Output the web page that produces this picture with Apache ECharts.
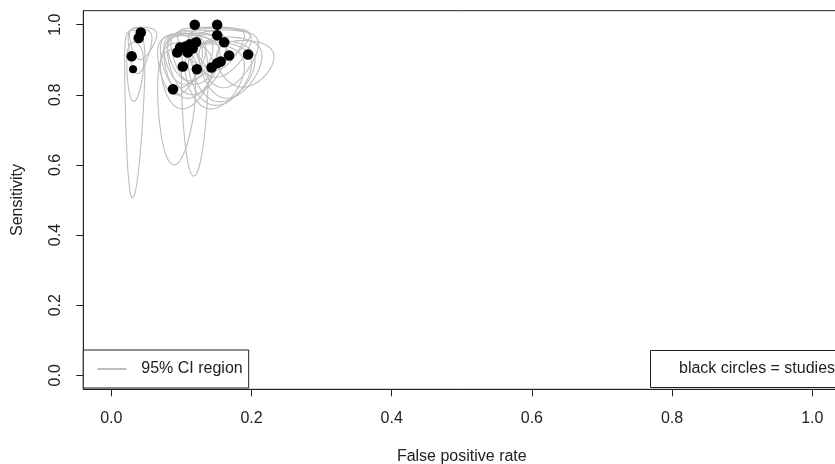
<!DOCTYPE html>
<html>
<head>
<meta charset="utf-8">
<script src="https://cdn.jsdelivr.net/npm/echarts@6/dist/echarts.min.js"></script>
<style>html,body{margin:0;padding:0;background:#fff;}#c{width:835px;height:464px;}</style>
</head>
<body>
<div id="c"></div>
<script>
// Study estimates
var studyFpr  = [0.042,0.039,0.029,0.031,0.088,0.102,0.094,0.098,0.106,0.112,0.116,0.109,0.119,0.122,0.151,0.151,0.161,0.168,0.195,0.143,0.151,0.156,0.121];
var studySens = [0.978,0.962,0.910,0.873,0.816,0.881,0.921,0.935,0.938,0.944,0.932,0.921,1.000,0.873,1.000,0.970,0.950,0.912,0.915,0.878,0.890,0.895,0.950];
// 95% CI region bounds per study (ellipses in logit space)
var ciFprLo  = [0.026,0.024,0.019,0.022,0.066,0.070,0.066,0.070,0.075,0.080,0.080,0.075,0.094,0.100,0.115,0.110,0.120,0.125,0.150,0.105,0.110,0.115,0.085];
var ciFprHi  = [0.065,0.058,0.048,0.046,0.120,0.145,0.130,0.135,0.145,0.155,0.165,0.155,0.198,0.138,0.190,0.200,0.210,0.215,0.232,0.190,0.200,0.205,0.165];
var ciSensLo = [0.900,0.860,0.505,0.780,0.600,0.760,0.800,0.820,0.830,0.840,0.800,0.790,0.880,0.567,0.870,0.850,0.820,0.790,0.822,0.760,0.770,0.780,0.830];
var ciSensHi = [0.993,0.990,0.985,0.950,0.930,0.950,0.970,0.975,0.975,0.980,0.975,0.970,0.993,0.960,0.993,0.990,0.985,0.965,0.955,0.945,0.950,0.955,0.985];
var tickValues = [0, 0.2, 0.4, 0.6, 0.8, 1.0];

function logit(p){ return Math.log(p/(1-p)); }
function expit(x){ return 1/(1+Math.exp(-x)); }
function ellipse(fLo,fHi,sLo,sHi){
  var cx=(logit(fLo)+logit(fHi))/2, rx=(logit(fHi)-logit(fLo))/2;
  var cy=(logit(sLo)+logit(sHi))/2, ry=(logit(sHi)-logit(sLo))/2;
  var pts=[];
  for(var i=0;i<=180;i++){
    var t=2*Math.PI*i/180;
    pts.push([expit(cx+rx*Math.cos(t)), expit(cy+ry*Math.sin(t))]);
  }
  return pts;
}

var FONT = "'Liberation Sans', Arial, sans-serif";
var series = [];
for (var k=0;k<studyFpr.length;k++){
  series.push({
    name:'95% CI region', type:'line', showSymbol:false, symbol:'none', silent:true,
    data: ellipse(ciFprLo[k],ciFprHi[k],ciSensLo[k],ciSensHi[k]),
    lineStyle:{color:'#bdbdbd', width:1.1}, itemStyle:{color:'#bdbdbd'}, z:2, animation:false
  });
}
var pts = studyFpr.map(function(f,i){ return [f, studySens[i]]; });
series.push({
  name:'studies', type:'scatter', data:pts,
  symbolSize:function(v,p){ return p.dataIndex===3 ? 8 : 10.5; },
  itemStyle:{color:'#000', opacity:1}, z:5, animation:false
});

var chart = echarts.init(document.getElementById('c'), null, {renderer:'canvas'});
chart.setOption({
  backgroundColor:'#fff',
  animation:false,
  textStyle:{fontFamily:FONT},
  grid:{left:83.3, top:10.7, width:757, height:378.6, containLabel:false, outerBoundsMode:'none',
        show:true, borderColor:'#222', borderWidth:1, backgroundColor:'transparent'},
  xAxis:{
    type:'value', min:-0.04, max:1.04, position:'bottom',
    axisLine:{show:true, onZero:false, lineStyle:{color:'#222', width:1}}, splitLine:{show:false},
    axisTick:{show:true, inside:false, customValues:tickValues, length:7, lineStyle:{color:'#222'}},
    axisLabel:{customValues:tickValues, formatter:function(v){return v.toFixed(1);}, margin:21, fontSize:16, color:'#222', fontFamily:FONT},
    name:'False positive rate', nameLocation:'middle', nameGap:59,
    nameTextStyle:{fontSize:16, color:'#222', fontFamily:FONT}
  },
  yAxis:{
    type:'value', min:-0.04, max:1.04, position:'left',
    axisLine:{show:true, onZero:false, lineStyle:{color:'#222', width:1}}, splitLine:{show:false},
    axisTick:{show:true, inside:false, customValues:tickValues, length:7, lineStyle:{color:'#222'}},
    axisLabel:{customValues:tickValues, formatter:function(v){return v.toFixed(1);}, rotate:90, margin:20, fontSize:16, color:'#222', fontFamily:FONT},
    name:'Sensitivity', nameLocation:'middle', nameGap:58,
    nameTextStyle:{fontSize:16, color:'#222', fontFamily:FONT}
  },
  legend:{
    data:['95% CI region'], left:83.3, top:350, orient:'horizontal',
    icon:'rect', itemWidth:29, itemHeight:2,
    padding:[11,6,11,14], borderColor:'#222', borderWidth:1, backgroundColor:'#fff',
    textStyle:{fontSize:16, color:'#222', fontFamily:FONT, padding:[0,0,0,10]},
    selectedMode:false, z:10
  },
  title:{
    text:'black circles = studies', left:650, top:350,
    padding:[11,40,11,29], borderColor:'#222', borderWidth:1, backgroundColor:'#fff',
    textStyle:{fontSize:16, fontWeight:'normal', color:'#222', fontFamily:FONT}, z:10
  },
  series:series
});
</script>
</body>
</html>
